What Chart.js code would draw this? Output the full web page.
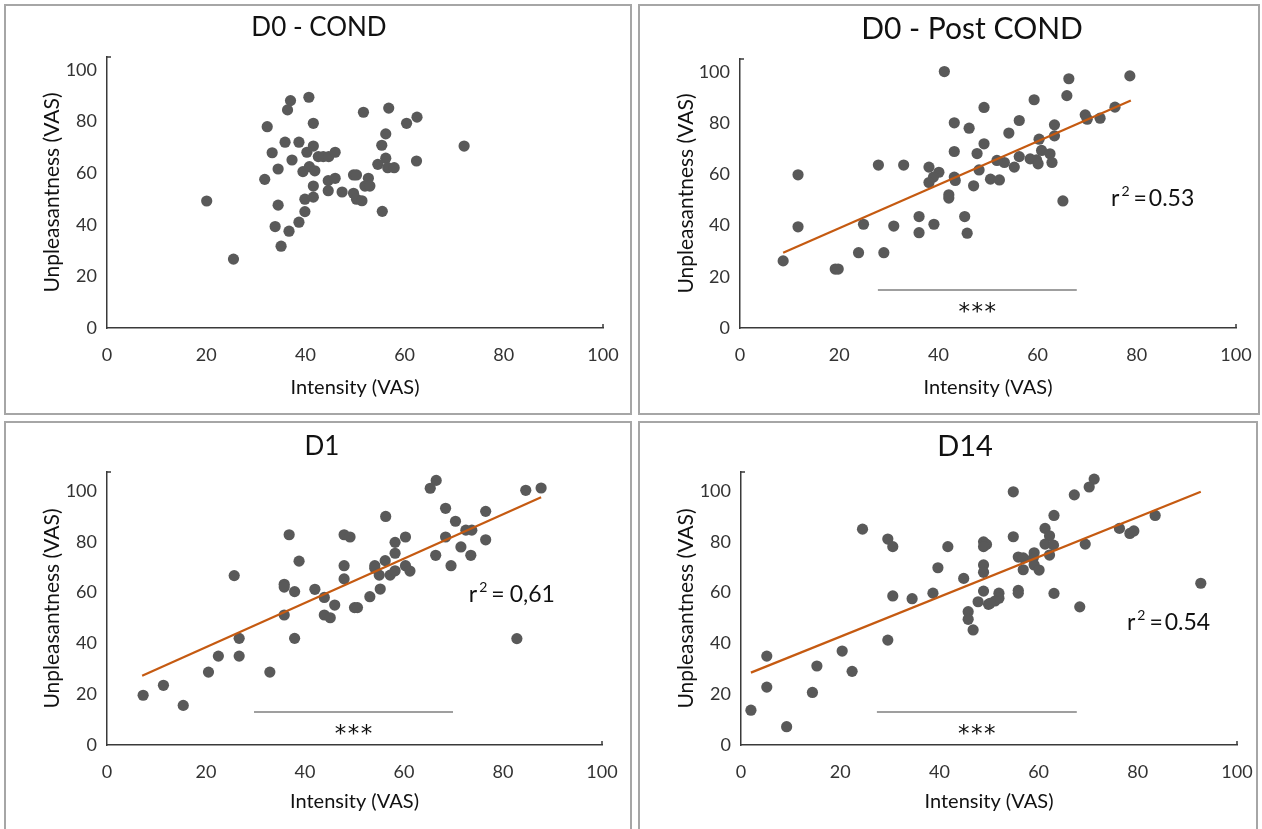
<!DOCTYPE html>
<html>
<head>
<meta charset="utf-8">
<script src="https://cdn.jsdelivr.net/npm/chart.js@4.4.0/dist/chart.umd.min.js"></script>
<style>
html, body { margin: 0; padding: 0; background: #fff; width: 1262px; height: 829px; overflow: hidden; }
.box { position: absolute; box-sizing: border-box; border: 2px solid #a6a6a6; }
canvas { position: absolute; }
</style>
</head>
<body>
<div class="box" style="left:4px;top:4px;width:628px;height:411px"></div>
<div class="box" style="left:638px;top:4px;width:622px;height:411px"></div>
<div class="box" style="left:4px;top:421px;width:628px;height:420px"></div>
<div class="box" style="left:638px;top:421px;width:620px;height:420px"></div>
<canvas id="c1" width="620" height="409" style="left:5px;top:5px"></canvas>
<canvas id="c2" width="620" height="409" style="left:639px;top:5px"></canvas>
<canvas id="c3" width="620" height="409" style="left:5px;top:422px"></canvas>
<canvas id="c4" width="620" height="409" style="left:639px;top:422px"></canvas>
<script>
// 刻度
const xTicks = [0, 20, 40, 60, 80, 100];
const yTicks = [0, 20, 40, 60, 80, 100];

// D0 - COND
const d0CondX = [40.7, 37.0, 36.4, 41.6, 32.3, 35.9, 38.7, 41.6, 33.3, 40.3, 42.6, 43.6, 44.7, 46.0, 37.3, 34.5, 39.5, 40.8, 41.9, 31.8, 44.6, 46.0, 41.6, 44.6, 47.4, 49.7, 50.3, 49.7, 50.3, 20.1, 34.5, 39.9, 41.6, 39.9, 33.9, 38.7, 36.7, 35.1, 25.5, 51.7, 56.8, 60.4, 62.5, 56.2, 55.4, 72.0, 56.2, 54.6, 56.6, 57.9, 62.4, 52.7, 52.0, 53.0, 51.4, 55.5];
const d0CondY = [89.4, 88.1, 84.5, 79.3, 78.0, 72.0, 72.0, 70.5, 67.9, 68.1, 66.4, 66.4, 66.4, 68.1, 65.1, 61.6, 60.6, 62.5, 60.9, 57.6, 57.1, 58.0, 55.0, 53.2, 52.7, 59.3, 59.3, 52.2, 49.9, 49.2, 47.6, 49.9, 50.7, 45.1, 39.3, 41.0, 37.5, 31.7, 26.7, 83.6, 85.2, 79.3, 81.7, 75.2, 70.8, 70.5, 65.8, 63.4, 62.1, 62.1, 64.7, 58.0, 55.0, 55.0, 49.3, 45.2];

// D0 - Post COND
const d0PostX = [41.2, 49.2, 43.2, 46.2, 49.2, 47.8, 43.2, 27.9, 33.0, 38.1, 40.1, 39.0, 38.1, 43.2, 43.4, 48.2, 47.1, 50.5, 42.1, 42.1, 11.7, 11.7, 24.9, 31.0, 36.1, 36.1, 39.1, 45.3, 45.8, 8.7, 19.2, 19.8, 23.9, 29.0, 66.3, 78.6, 65.9, 59.3, 56.3, 69.6, 70.0, 72.6, 75.6, 63.4, 63.4, 60.3, 54.2, 60.8, 62.5, 58.5, 59.8, 60.1, 56.3, 62.9, 53.3, 51.8, 55.3, 52.3, 65.1];
const d0PostY = [100.1, 86.1, 80.1, 78.0, 71.9, 68.1, 68.9, 63.6, 63.6, 62.8, 60.8, 58.9, 56.8, 58.9, 57.6, 61.7, 55.5, 58.1, 52.0, 50.7, 59.8, 39.5, 40.5, 39.8, 43.5, 37.2, 40.5, 43.5, 37.0, 26.2, 23.0, 23.0, 29.4, 29.4, 97.3, 98.4, 90.7, 89.1, 81.0, 83.2, 81.5, 81.9, 86.2, 79.3, 75.0, 73.7, 76.1, 69.3, 68.0, 66.0, 65.6, 64.1, 66.9, 64.6, 64.6, 65.4, 62.8, 57.8, 49.6];
const d0PostFit = [[8.7, 29.4], [78.8, 88.8]];

// D1
const d1X = [36.8, 47.9, 49.1, 38.8, 47.9, 47.9, 25.7, 35.8, 35.8, 37.9, 42.0, 43.9, 46.0, 43.9, 45.1, 50.0, 50.6, 35.8, 26.7, 37.9, 22.5, 26.7, 20.5, 32.9, 11.4, 7.3, 15.4, 65.3, 66.5, 84.6, 87.7, 56.3, 68.4, 70.4, 76.5, 72.5, 73.7, 68.4, 76.5, 71.5, 73.5, 66.4, 69.5, 58.2, 60.3, 58.2, 56.2, 54.1, 54.1, 55.0, 57.2, 58.2, 60.3, 61.2, 55.2, 53.1, 82.8];
const d1Y = [82.8, 82.8, 81.9, 72.4, 70.6, 65.4, 66.7, 63.3, 62.2, 60.4, 61.3, 58.1, 55.1, 51.2, 50.1, 54.1, 54.1, 51.2, 42.0, 42.0, 35.0, 35.0, 28.7, 28.7, 23.5, 19.6, 15.6, 101.1, 104.2, 100.3, 101.2, 90.0, 93.2, 88.1, 92.0, 84.6, 84.6, 81.9, 80.8, 78.0, 74.7, 74.7, 70.6, 79.8, 81.9, 75.5, 72.6, 70.6, 69.6, 66.9, 66.9, 68.6, 70.6, 68.5, 61.4, 58.4, 41.9];
const d1Fit = [[7.1, 27.3], [87.7, 97.6]];

// D14
const d14X = [24.5, 29.6, 30.6, 41.7, 48.9, 49.5, 48.9, 39.7, 48.9, 48.9, 44.9, 30.6, 34.5, 38.7, 48.9, 47.8, 49.9, 45.8, 45.8, 46.8, 29.6, 20.4, 5.2, 15.3, 22.4, 5.2, 14.4, 2.0, 9.2, 71.2, 70.2, 67.2, 54.9, 63.1, 83.5, 61.3, 62.2, 61.3, 63.0, 54.9, 76.3, 78.4, 79.2, 69.4, 55.9, 56.9, 59.1, 58.9, 62.2, 59.1, 60.1, 56.9, 92.7, 55.9, 55.9, 63.1, 52.0, 52.0, 51.2, 50.2, 68.3];
const d14Y = [85.0, 81.1, 78.1, 78.1, 80.0, 79.0, 78.1, 69.8, 70.9, 68.0, 65.6, 58.7, 57.6, 59.8, 60.6, 56.4, 55.4, 52.5, 49.5, 45.3, 41.3, 37.0, 35.0, 31.1, 29.0, 22.8, 20.7, 13.7, 7.2, 104.7, 101.6, 98.5, 99.7, 90.4, 90.4, 85.3, 82.4, 79.1, 78.7, 82.0, 85.3, 83.3, 84.3, 79.1, 74.0, 73.7, 75.7, 73.5, 74.8, 70.9, 68.9, 69.0, 63.7, 60.9, 59.8, 59.7, 59.8, 57.8, 56.7, 55.8, 54.4];
const d14Fit = [[2.0, 28.5], [92.7, 99.7]];

// 显著性横线 [起点, 终点, 高度]
const d0PostSig = [27.8, 67.9, 14.8];
const d1Sig = [29.7, 69.9, 13.0];
const d14Sig = [27.4, 67.7, 13.0];

const FONT = 'Lato, "Open Sans", sans-serif';
const AXIS_COLOR = '#3a3a3a';

// 标题、r² 和 *** 用插件画
const annotPlugin = {
    id: 'annot',
    afterDraw(chart) {
        const cfg = chart.options.plugins.annot;
        const ctx = chart.ctx;
        const xs = chart.scales.x;
        const ys = chart.scales.y;
        const area = chart.chartArea;
        ctx.save();

        // 轴端的小刻度
        ctx.strokeStyle = AXIS_COLOR;
        ctx.lineWidth = 1.5;
        ctx.beginPath();
        ctx.moveTo(area.left, area.top);
        ctx.lineTo(area.left + 4, area.top);
        ctx.moveTo(area.right, area.bottom);
        ctx.lineTo(area.right, area.bottom - 4);
        ctx.stroke();

        ctx.fillStyle = '#111';
        ctx.textAlign = 'center';
        ctx.textBaseline = 'middle';
        ctx.font = cfg.titleSize + 'px ' + FONT;
        ctx.fillText(cfg.title, cfg.titleX, cfg.titleY);

        if (cfg.r2) {
            let x = xs.getPixelForValue(cfg.r2.x);
            const y = ys.getPixelForValue(cfg.r2.y);
            ctx.textAlign = 'left';
            ctx.textBaseline = 'alphabetic';
            ctx.font = '23px ' + FONT;
            ctx.fillText('r', x, y);
            x += ctx.measureText('r').width + 2;
            ctx.font = '14px ' + FONT;
            ctx.fillText('2', x, y - 10);
            x += ctx.measureText('2').width + 4;
            ctx.font = '23px ' + FONT;
            ctx.fillText('=', x, y);
            x += ctx.measureText('=').width + cfg.r2.gap;
            ctx.fillText(cfg.r2.text, x, y);
        }

        if (cfg.sig) {
            const cx = xs.getPixelForValue((cfg.sig[0] + cfg.sig[1]) / 2);
            const by = ys.getPixelForValue(cfg.sig[2]);
            ctx.textAlign = 'center';
            ctx.textBaseline = 'alphabetic';
            ctx.font = '23px "DejaVu Sans", sans-serif';
            [-13, 0, 13].forEach(dx => ctx.fillText('*', cx + dx, by + 29));
        }
        ctx.restore();
    }
};

function buildChart(id, cfg) {
    const datasets = [];
    if (cfg.fit) {
        datasets.push({
            data: cfg.fit.map(p => ({ x: p[0], y: p[1] })),
            showLine: true,
            borderColor: '#c55a11',
            borderWidth: 2.2,
            pointRadius: 0,
            clip: false,
            order: 0
        });
    }
    if (cfg.sig) {
        datasets.push({
            data: [{ x: cfg.sig[0], y: cfg.sig[2] }, { x: cfg.sig[1], y: cfg.sig[2] }],
            showLine: true,
            borderColor: '#7f7f7f',
            borderWidth: 1.5,
            pointRadius: 0,
            order: 1
        });
    }
    datasets.push({
        data: cfg.x.map((v, i) => ({ x: v, y: cfg.y[i] })),
        backgroundColor: '#595959',
        borderWidth: 0,
        pointRadius: 5.6,
        clip: false,
        order: 2
    });

    const tickFont = { family: FONT, size: 18 };

    return new Chart(document.getElementById(id), {
        type: 'scatter',
        data: { datasets: datasets },
        options: {
            responsive: false,
            animation: false,
            devicePixelRatio: 1,
            layout: { padding: cfg.pad },
            plugins: {
                legend: { display: false },
                tooltip: { enabled: false },
                annot: {
                    title: cfg.title,
                    titleSize: cfg.titleSize,
                    titleX: cfg.titleX,
                    titleY: cfg.titleY,
                    r2: cfg.r2,
                    sig: cfg.sig
                }
            },
            scales: {
                x: {
                    type: 'linear',
                    min: 0,
                    max: 100,
                    afterBuildTicks: s => { s.ticks = xTicks.map(v => ({ value: v })); },
                    afterFit: s => { s.height = cfg.xh; },
                    // 隐藏的刻度线只用来把标签往下推
                    grid: { display: false, drawTicks: true, tickLength: 11 },
                    border: { display: true, color: AXIS_COLOR, width: 1.5 },
                    ticks: { padding: 5, font: tickFont, color: '#333' },
                    title: { display: true, text: 'Intensity (VAS)', font: { family: FONT, size: 20 }, color: '#111', padding: 0 }
                },
                y: {
                    type: 'linear',
                    min: 0,
                    max: cfg.ymax,
                    afterBuildTicks: s => { s.ticks = yTicks.map(v => ({ value: v })); },
                    afterFit: s => { s.width = cfg.yw; },
                    grid: { display: false, drawTicks: false },
                    border: { display: true, color: AXIS_COLOR, width: 1.5 },
                    ticks: { padding: 10, font: tickFont, color: '#333' },
                    title: { display: true, text: 'Unpleasantness (VAS)', font: { family: FONT, size: 21 }, color: '#111', padding: 0 }
                }
            }
        },
        plugins: [annotPlugin]
    });
}

buildChart('c1', {
    x: d0CondX, y: d0CondY,
    title: 'D0 - COND', titleSize: 26, titleX: 314, titleY: 23,
    pad: { left: 35, top: 52, right: 22, bottom: 14 }, xh: 72, yw: 67, ymax: 105
});

buildChart('c2', {
    x: d0PostX, y: d0PostY, fit: d0PostFit, sig: d0PostSig,
    r2: { text: '0.53', x: 74.8, y: 47.7, gap: 2 },
    title: 'D0 - Post COND', titleSize: 30, titleX: 333, titleY: 24,
    pad: { left: 35, top: 54, right: 23, bottom: 14 }, xh: 72, yw: 66, ymax: 105
});

buildChart('c3', {
    x: d1X, y: d1Y, fit: d1Fit, sig: d1Sig,
    r2: { text: '0,61', x: 73.1, y: 56.2, gap: 5 },
    title: 'D1', titleSize: 26, titleX: 317, titleY: 25,
    pad: { left: 35, top: 50, right: 23, bottom: 17 }, xh: 69, yw: 67, ymax: 107.5
});

buildChart('c4', {
    x: d14X, y: d14Y, fit: d14Fit, sig: d14Sig,
    r2: { text: '0.54', x: 77.8, y: 45.3, gap: 2 },
    title: 'D14', titleSize: 29, titleX: 326, titleY: 25,
    pad: { left: 35, top: 50, right: 22, bottom: 17 }, xh: 69, yw: 67, ymax: 107.5
});
</script>
</body>
</html>
